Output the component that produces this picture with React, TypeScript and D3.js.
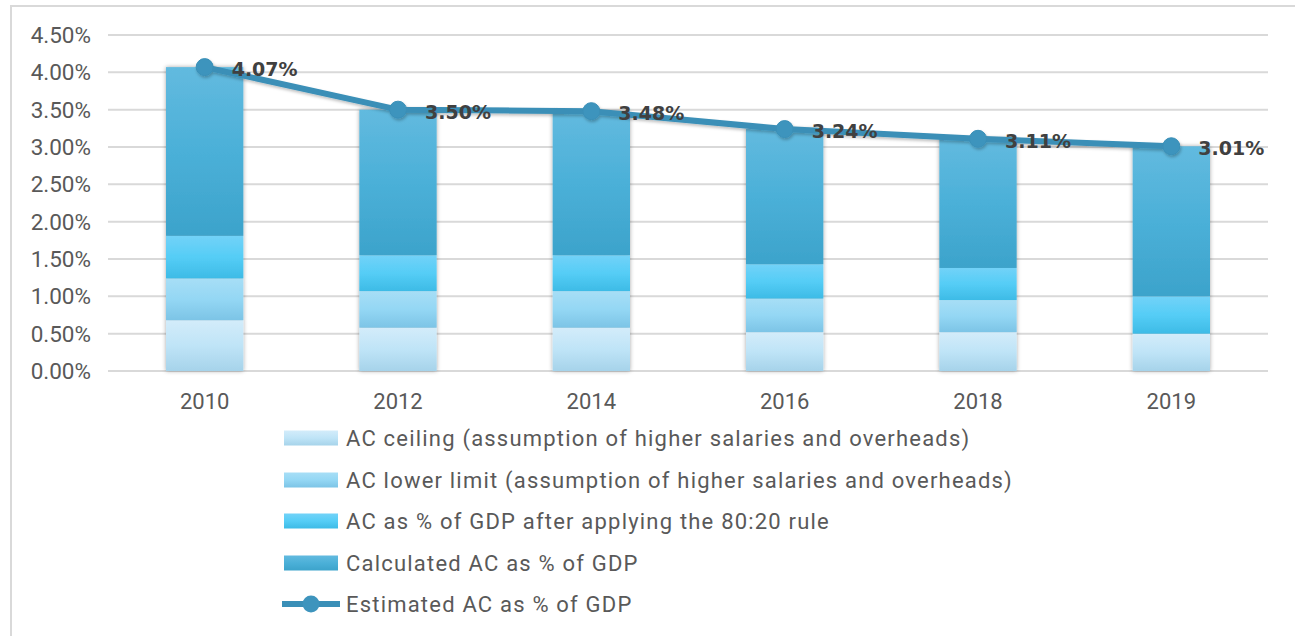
import React from "react";
import * as d3 from "d3";

const years = ["2010", "2012", "2014", "2016", "2018", "2019"];
// Cumulative bar levels (in % of GDP)
const acCeiling = [0.68, 0.58, 0.58, 0.52, 0.52, 0.5];
const acLowerLimit = [1.24, 1.07, 1.07, 0.97, 0.95, 0.5];
const acAfter8020 = [1.81, 1.55, 1.55, 1.43, 1.38, 1.0];
const calculatedAC = [4.07, 3.5, 3.48, 3.24, 3.11, 3.01];
const estimatedAC = [4.07, 3.5, 3.48, 3.24, 3.11, 3.01];
const yTicks = [0, 0.5, 1, 1.5, 2, 2.5, 3, 3.5, 4, 4.5];

const seriesNames = [
  "AC ceiling (assumption of higher salaries and overheads)",
  "AC lower limit (assumption of higher salaries and overheads)",
  "AC as % of GDP after applying the 80:20 rule",
  "Calculated AC as % of GDP",
];
const lineName = "Estimated AC as % of GDP";

const gradients = [
  { id: "g0", stops: ["#d3ecfa", "#bfe4f7", "#a6d3ea"] },
  { id: "g1", stops: ["#a7def6", "#94d7f4", "#7cc4e6"] },
  { id: "g2", stops: ["#72d2f8", "#55cdf6", "#3dbbe6"] },
  { id: "g3", stops: ["#62badf", "#4bb0d8", "#3ca3cb"] },
];

const FONT = "Roboto, 'Open Sans', sans-serif";

export default function App() {
  const W = 1295;
  const H = 636;
  const x = d3.scaleBand<string>().domain(years).range([108, 1268]).padding(0);
  const y = d3.scaleLinear().domain([0, 4.5]).range([371, 35]);
  const bw = x.step() * 0.4;
  const fmt = (v: number) => v.toFixed(2) + "%";

  const levels = [acCeiling, acLowerLimit, acAfter8020, calculatedAC];

  const line = d3
    .line<number>()
    .x((_, i) => (x(years[i]) as number) + x.bandwidth() / 2)
    .y((d) => y(d));

  const legendY = [438, 480, 521, 563, 604];

  return (
    <svg width={W} height={H} style={{ position: "absolute", left: 0, top: 0, background: "#fff" }}>
      <defs>
        {gradients.map((g) => (
          <linearGradient key={g.id} id={g.id} x1="0" y1="0" x2="0" y2="1">
            <stop offset="0%" stopColor={g.stops[0]} />
            <stop offset="50%" stopColor={g.stops[1]} />
            <stop offset="100%" stopColor={g.stops[2]} />
          </linearGradient>
        ))}
        <filter id="barShadow" x="-20%" y="-5%" width="140%" height="110%">
          <feDropShadow dx="0" dy="0" stdDeviation="2" floodColor="#000" floodOpacity="0.35" />
        </filter>
        <filter id="lineShadow" x="-5%" y="-20%" width="110%" height="140%">
          <feDropShadow dx="1" dy="2" stdDeviation="1.5" floodColor="#000" floodOpacity="0.25" />
        </filter>
      </defs>
      <rect x={11} y={6} width={1400} height={700} fill="none" stroke="#d9d9d9" strokeWidth={2} />

      {/* gridlines */}
      {yTicks.map((t) => (
        <line key={t} x1={108} x2={1268} y1={y(t)} y2={y(t)} stroke="#d9d9d9" strokeWidth={2} />
      ))}
      {/* y tick labels */}
      {yTicks.map((t) => (
        <text
          key={"l" + t}
          x={91}
          y={y(t)}
          textAnchor="end"
          dominantBaseline="central"
          fontFamily={FONT}
          fontSize={22.5}
          fill="#595959"
        >
          {fmt(t)}
        </text>
      ))}

      {/* bars */}
      {years.map((yr, i) => {
        const cx = (x(yr) as number) + x.bandwidth() / 2;
        let prev = 0;
        return (
          <g key={yr} filter="url(#barShadow)">
            {levels.map((lv, s) => {
              const top = lv[i];
              const bottom = prev;
              prev = Math.max(prev, top);
              if (top <= bottom) return null;
              return (
                <rect
                  key={s}
                  x={cx - bw / 2}
                  y={y(top)}
                  width={bw}
                  height={y(bottom) - y(top)}
                  fill={`url(#${gradients[s].id})`}
                />
              );
            })}
          </g>
        );
      })}

      {/* x labels */}
      {years.map((yr) => (
        <text
          key={"x" + yr}
          x={(x(yr) as number) + x.bandwidth() / 2}
          y={409}
          textAnchor="middle"
          fontFamily={FONT}
          fontSize={22}
          fill="#595959"
        >
          {yr}
        </text>
      ))}

      {/* line */}
      <g filter="url(#lineShadow)">
        <path d={line(estimatedAC) as string} fill="none" stroke="#3a8fb7" strokeWidth={6} strokeLinejoin="round" />
        {estimatedAC.map((v, i) => (
          <circle
            key={i}
            cx={(x(years[i]) as number) + x.bandwidth() / 2}
            cy={y(v)}
            r={8.5}
            fill="#3d94bd"
            stroke="#3a8fb7"
            strokeWidth={1}
          />
        ))}
      </g>
      {estimatedAC.map((v, i) => (
        <text
          key={"d" + i}
          x={(x(years[i]) as number) + x.bandwidth() / 2 + 27}
          y={y(v) + 2}
          dominantBaseline="central"
          fontFamily="'DejaVu Sans', sans-serif"
          fontWeight="bold"
          fontSize={19}
          fill="#404040"
        >
          {fmt(v)}
        </text>
      ))}

      {/* legend */}
      {seriesNames.map((n, s) => (
        <g key={n}>
          <rect x={284} y={legendY[s] - 7.5} width={54} height={15} fill={`url(#${gradients[s].id})`} />
          <text
            x={346}
            y={legendY[s]}
            dominantBaseline="central"
            fontFamily={FONT}
            fontSize={22}
            letterSpacing={1.2}
            fill="#595959"
          >
            {n}
          </text>
        </g>
      ))}
      <g>
        <line x1={282} x2={340} y1={legendY[4]} y2={legendY[4]} stroke="#3a8fb7" strokeWidth={6} />
        <circle cx={311} cy={legendY[4]} r={8.5} fill="#3d94bd" />
        <text
          x={346}
          y={legendY[4]}
          dominantBaseline="central"
          fontFamily={FONT}
          fontSize={22}
          letterSpacing={1.2}
          fill="#595959"
        >
          {lineName}
        </text>
      </g>
    </svg>
  );
}
